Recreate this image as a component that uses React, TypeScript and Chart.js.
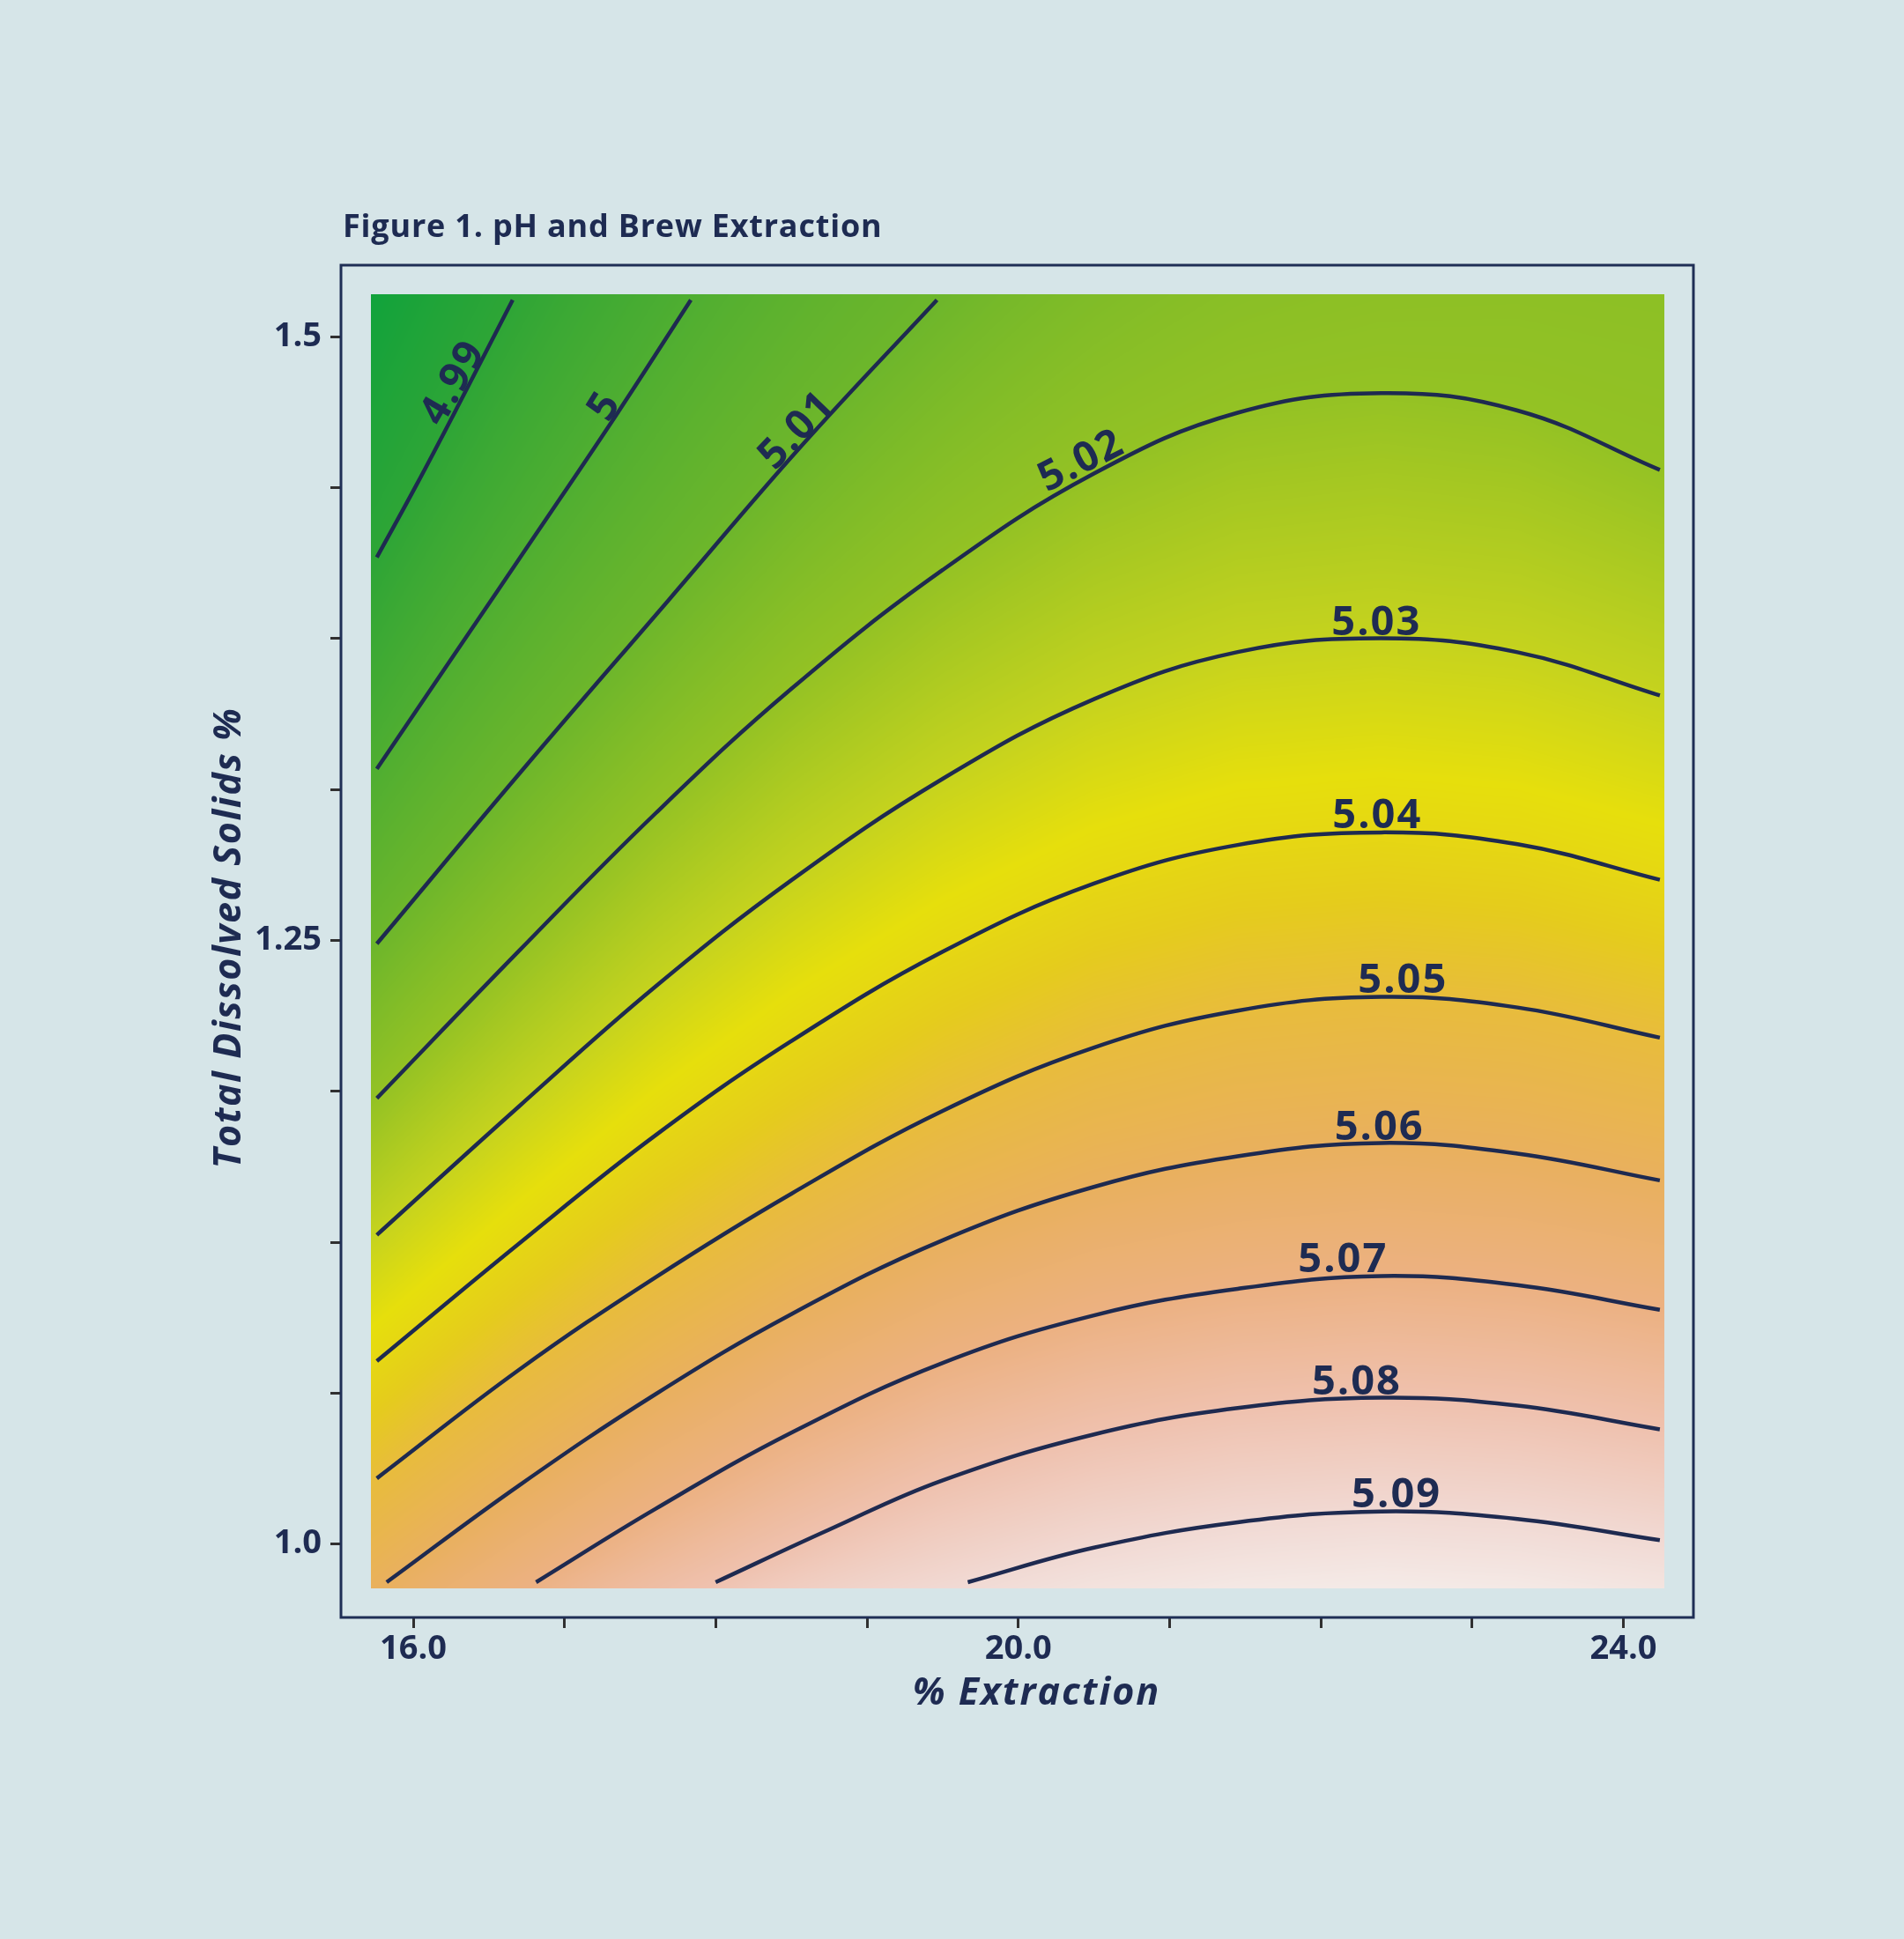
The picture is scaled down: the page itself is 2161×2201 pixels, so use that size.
import { useEffect, useRef } from 'react';
import { Chart, registerables } from 'chart.js';

Chart.register(...registerables);

const INK = '#1e2b52';
const PAGE = '#d6e5e8';
const FONT = '"Open Sans", Lato, sans-serif';

// axes
const xTickValues = [16, 17, 18, 19, 20, 21, 22, 23, 24];
const xTickLabels = ['16.0', '', '', '', '20.0', '', '', '', '24.0'];
const yTickValues = [1.0, 1.0625, 1.125, 1.1875, 1.25, 1.3125, 1.375, 1.4375, 1.5];
const yTickLabels = ['1.0', '', '', '', '1.25', '', '', '', '1.5'];
const xRange = [15.522, 24.463];
const yRange = [0.9696, 1.5296];

// extent of the coloured field
const fieldX = [15.72, 24.27];
const fieldY = [0.9816, 1.5176];

// contour levels (pH) and the traced lines (% extraction, TDS %)
const levels = [4.99, 5.0, 5.01, 5.02, 5.03, 5.04, 5.05, 5.06, 5.07, 5.08, 5.09];
const levelNames = ['4.99', '5', '5.01', '5.02', '5.03', '5.04', '5.05', '5.06', '5.07', '5.08', '5.09'];

const c499x = [15.759, 16.022, 16.304, 16.657];
const c499y = [1.4086, 1.4387, 1.4723, 1.5152];
const c500x = [15.759, 16.276, 16.812, 17.344, 17.835];
const c500y = [1.321, 1.3688, 1.4183, 1.4678, 1.5152];
const c501x = [15.759, 16.728, 17.688, 18.564, 19.462];
const c501y = [1.2486, 1.321, 1.3909, 1.4546, 1.5152];
const c502x = [15.759, 16.7, 17.6, 18.5, 19.5, 20.5, 21.45, 22.4, 23.3, 24.241];
const c502y = [1.1846, 1.2457, 1.3025, 1.3542, 1.4034, 1.4433, 1.4685, 1.4766, 1.4694, 1.4448];
const c503x = [15.759, 16.7, 17.6, 18.5, 19.5, 20.5, 21.45, 22.4, 23.3, 24.241];
const c503y = [1.128, 1.1813, 1.2308, 1.2749, 1.3169, 1.3499, 1.3694, 1.3751, 1.3693, 1.3514];
const c504x = [15.759, 16.7, 17.6, 18.5, 19.5, 20.5, 21.45, 22.4, 23.3, 24.241];
const c504y = [1.0758, 1.1245, 1.1692, 1.2083, 1.2453, 1.2735, 1.2895, 1.2947, 1.2898, 1.2751];
const c505x = [15.759, 16.7, 17.6, 18.5, 19.5, 20.5, 21.45, 22.4, 23.3, 24.241];
const c505y = [1.0272, 1.0722, 1.1104, 1.1451, 1.1794, 1.2056, 1.2209, 1.2266, 1.2222, 1.2097];
const c506x = [15.824, 16.7, 17.6, 18.5, 19.5, 20.5, 21.45, 22.4, 23.3, 24.241];
const c506y = [0.9842, 1.0243, 1.062, 1.0952, 1.1258, 1.1479, 1.1606, 1.1661, 1.1617, 1.1506];
const c507x = [16.812, 17.6, 18.5, 19.5, 20.5, 21.45, 22.4, 23.3, 24.241];
const c507y = [0.9842, 1.0145, 1.0461, 1.075, 1.0947, 1.1057, 1.111, 1.1072, 1.097];
const c508x = [17.999, 18.75, 19.5, 20.5, 21.45, 22.4, 23.3, 24.241];
const c508y = [0.9842, 1.006, 1.0264, 1.0454, 1.0563, 1.0606, 1.0573, 1.0475];
const c509x = [19.666, 20.5, 21.45, 22.4, 23.3, 24.241];
const c509y = [0.9842, 0.9985, 1.009, 1.0135, 1.0104, 1.0016];

const contourXs = [c499x, c500x, c501x, c502x, c503x, c504x, c505x, c506x, c507x, c508x, c509x];
const contourYs = [c499y, c500y, c501y, c502y, c503y, c504y, c505y, c506y, c507y, c508y, c509y];

// inline labels: centre and rotation (degrees)
const labelX = [16.248, 17.251, 18.522, 20.404, 22.362, 22.368, 22.537, 22.382, 22.141, 22.232, 22.495];
const labelY = [1.4811, 1.4714, 1.4617, 1.4493, 1.3826, 1.3025, 1.2345, 1.1736, 1.1188, 1.0682, 1.0214];
const labelAngle = [-60, -58, -46, -27, 0, 0, 0, 0, 0, 0, 0];

// colour scale of the field
const cmapValues = [4.975, 4.99, 5.0, 5.01, 5.02, 5.03, 5.037, 5.044, 5.05, 5.06, 5.07, 5.08, 5.09, 5.1];
const cmapColors = ['#0ca23c', '#2ea536', '#4fae31', '#6db62b', '#94c224', '#c6d31e', '#e6df0c', '#e5cc1c', '#e8bc3c', '#e9b05e', '#ecb182', '#efc1ae', '#f1d9d3', '#f6f3f1'];

function hexRgb(h: string) {
  const n = parseInt(h.slice(1), 16);
  return [(n >> 16) & 255, (n >> 8) & 255, n & 255];
}

function colourAt(v: number) {
  const n = cmapValues.length;
  if (v <= cmapValues[0]) return hexRgb(cmapColors[0]);
  for (let i = 1; i < n; i++) {
    if (v <= cmapValues[i]) {
      const t = (v - cmapValues[i - 1]) / (cmapValues[i] - cmapValues[i - 1]);
      const a = hexRgb(cmapColors[i - 1]);
      const b = hexRgb(cmapColors[i]);
      return a.map((c, k) => c + (b[k] - c) * t);
    }
  }
  return hexRgb(cmapColors[n - 1]);
}

// where a traced contour meets a vertical line at xv (end segments carried on past the field)
function crossAt(xs: number[], ys: number[], xv: number) {
  const n = xs.length;
  if (xv < xs[0]) return ys[0] + ((ys[1] - ys[0]) * (xv - xs[0])) / (xs[1] - xs[0]);
  if (xv > xs[n - 1]) return ys[n - 1] + ((ys[n - 1] - ys[n - 2]) * (xv - xs[n - 1])) / (xs[n - 1] - xs[n - 2]);
  for (let i = 1; i < n; i++) {
    if (xv <= xs[i]) {
      const t = (xv - xs[i - 1]) / (xs[i] - xs[i - 1]);
      return ys[i - 1] + (ys[i] - ys[i - 1]) * t;
    }
  }
  return ys[n - 1];
}

const fieldPlugin = {
  id: 'field',
  beforeDatasetsDraw(chart: any) {
    const { ctx } = chart;
    const xs = chart.scales.x;
    const ys = chart.scales.y;
    const left = Math.round(xs.getPixelForValue(fieldX[0]));
    const right = Math.round(xs.getPixelForValue(fieldX[1]));
    const top = Math.round(ys.getPixelForValue(fieldY[1]));
    const bottom = Math.round(ys.getPixelForValue(fieldY[0]));
    const w = right - left;
    const h = bottom - top;

    const lo = 4.96;
    const steps = 1500;
    const lut: number[][] = [];
    for (let i = 0; i <= steps; i++) lut.push(colourAt(lo + (i / steps) * 0.15));

    const off = document.createElement('canvas');
    off.width = w;
    off.height = h;
    const octx = off.getContext('2d')!;
    const img = octx.createImageData(w, h);
    for (let i = 0; i < w; i++) {
      const xv = xs.getValueForPixel(left + i + 0.5);
      const cross = contourXs.map((cx, k) => ({ p: ys.getPixelForValue(crossAt(cx, contourYs[k], xv)) - top, v: levels[k] }));
      cross.sort((a, b) => a.p - b.p);
      let s = 0;
      for (let j = 0; j < h; j++) {
        const pj = j + 0.5;
        while (s < cross.length - 2 && pj > cross[s + 1].p) s++;
        const a = cross[s];
        const b = cross[s + 1];
        const v = a.v + ((b.v - a.v) * (pj - a.p)) / (b.p - a.p);
        let idx = Math.round(((v - lo) / 0.15) * steps);
        idx = Math.max(0, Math.min(steps, idx));
        const c = lut[idx];
        const o = (j * w + i) * 4;
        img.data[o] = c[0];
        img.data[o + 1] = c[1];
        img.data[o + 2] = c[2];
        img.data[o + 3] = 255;
      }
    }
    octx.putImageData(img, 0, 0);
    ctx.save();
    ctx.drawImage(off, left, top, w, h);
    ctx.restore();
  },
  afterDatasetsDraw(chart: any) {
    const { ctx } = chart;
    const xs = chart.scales.x;
    const ys = chart.scales.y;
    ctx.save();
    ctx.fillStyle = INK;
    ctx.font = `bold 47px ${FONT}`;
    ctx.letterSpacing = '2px';
    ctx.textAlign = 'center';
    ctx.textBaseline = 'alphabetic';
    levelNames.forEach((name, k) => {
      const px = xs.getPixelForValue(labelX[k]);
      const py = ys.getPixelForValue(labelY[k]);
      const asc = ctx.measureText(name).actualBoundingBoxAscent;
      ctx.save();
      ctx.translate(px, py);
      ctx.rotate((labelAngle[k] * Math.PI) / 180);
      ctx.fillText(name, 1, asc / 2);
      ctx.restore();
    });
    ctx.restore();
  },
  afterDraw(chart: any) {
    const { ctx, chartArea: ca } = chart;
    ctx.save();
    ctx.strokeStyle = '#1f2e55';
    ctx.lineWidth = 3;
    ctx.strokeRect(ca.left, ca.top, ca.right - ca.left, ca.bottom - ca.top);

    ctx.fillStyle = INK;
    ctx.textBaseline = 'alphabetic';
    ctx.textAlign = 'left';
    ctx.font = `bold 36px ${FONT}`;
    ctx.letterSpacing = '0.8px';
    ctx.fillText('Figure 1. pH and Brew Extraction', ca.left + 2, ca.top - 32);

    ctx.textAlign = 'center';
    ctx.font = `italic bold 43px ${FONT}`;
    ctx.letterSpacing = '2px';
    ctx.fillText('% Extraction', (ca.left + ca.right) / 2 + 22, ca.bottom + 99);

    ctx.letterSpacing = '1.6px';
    ctx.translate(ca.left - 114, (ca.top + ca.bottom) / 2 - 4);
    ctx.rotate(-Math.PI / 2);
    ctx.fillText('Total Dissolved Solids %', 0, 0);
    ctx.restore();
  },
};

export default function App() {
  const ref = useRef<HTMLCanvasElement>(null);
  const chartRef = useRef<Chart | null>(null);

  useEffect(() => {
    if (!ref.current) return;
    chartRef.current?.destroy();
    chartRef.current = new Chart(ref.current, {
      type: 'scatter',
      data: {
        datasets: contourXs.map((cx, k) => ({
          label: levelNames[k],
          data: cx.map((x, i) => ({ x, y: contourYs[k][i] })),
          showLine: true,
          borderColor: '#1e2a50',
          borderWidth: 4.5,
          pointRadius: 0,
          tension: 0.4,
          fill: false,
        })),
      },
      options: {
        responsive: false,
        animation: false,
        events: [],
        layout: { padding: { top: 301, right: 239, left: 0, bottom: 0 } },
        plugins: { legend: { display: false }, tooltip: { enabled: false } },
        scales: {
          x: {
            type: 'linear',
            min: xRange[0],
            max: xRange[1],
            afterBuildTicks: (s: any) => { s.ticks = xTickValues.map((value) => ({ value })); },
            afterFit: (s: any) => { s.height = 365; },
            border: { display: false },
            grid: { display: true, drawOnChartArea: false, drawTicks: true, tickLength: 12, tickWidth: 3, tickColor: '#303030' },
            ticks: {
              autoSkip: false,
              maxRotation: 0,
              padding: 1,
              color: INK,
              font: { family: FONT, size: 38, weight: 'bold' },
              callback: (_v: any, i: number) => xTickLabels[i],
            },
          },
          y: {
            type: 'linear',
            min: yRange[0],
            max: yRange[1],
            afterBuildTicks: (s: any) => { s.ticks = yTickValues.map((value) => ({ value })); },
            afterFit: (s: any) => { s.width = 387; },
            border: { display: false },
            grid: { display: true, drawOnChartArea: false, drawTicks: true, tickLength: 12, tickWidth: 3, tickColor: '#303030' },
            ticks: {
              autoSkip: false,
              padding: 10,
              color: INK,
              font: { family: FONT, size: 38, weight: 'bold' },
              callback: (_v: any, i: number) => yTickLabels[i],
            },
          },
        },
      },
      plugins: [fieldPlugin],
    });
    return () => { chartRef.current?.destroy(); };
  }, []);

  return (
    <div style={{ position: 'fixed', left: 0, top: 0, width: 2161, height: 2201, background: PAGE }}>
      <canvas ref={ref} width={2161} height={2201} style={{ width: 2161, height: 2201, display: 'block' }} />
    </div>
  );
}
